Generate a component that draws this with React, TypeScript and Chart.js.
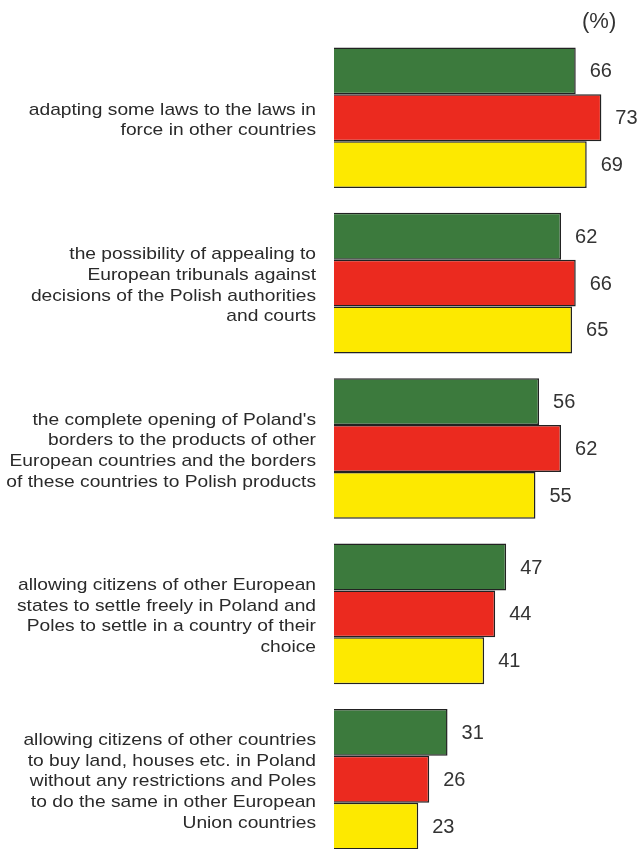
import React, { useEffect, useRef } from "react";
import { Chart, registerables } from "chart.js";

Chart.register(...registerables);

const categories: string[][] = [
  ["adapting some laws to the laws in", "force in other countries"],
  ["the possibility of appealing to", "European tribunals against", "decisions of the Polish authorities", "and courts"],
  ["the complete opening of Poland's", "borders to the products of other", "European countries and the borders", "of these countries to Polish products"],
  ["allowing citizens of other European", "states to settle freely in Poland and", "Poles to settle in a country of their", "choice"],
  ["allowing citizens of other countries", "to buy land, houses etc. in Poland", "without any restrictions and Poles", "to do the same in other European", "Union countries"],
];

const greenValues = [66, 62, 56, 47, 31];
const redValues = [73, 66, 62, 44, 26];
const yellowValues = [69, 65, 55, 41, 23];

const FONT = "'Liberation Sans', Arial, Helvetica, sans-serif";

export default function App() {
  const ref = useRef<HTMLCanvasElement | null>(null);

  useEffect(() => {
    if (!ref.current) return;
    const labelsPlugin = {
      id: "labelsPlugin",
      afterDatasetsDraw(chart: any) {
        const ctx = chart.ctx;
        ctx.save();
        ctx.fillStyle = "#333";
        ctx.font = `20px ${FONT}`;
        ctx.textAlign = "left";
        ctx.textBaseline = "middle";
        chart.data.datasets.forEach((ds: any, di: number) => {
          const meta = chart.getDatasetMeta(di);
          meta.data.forEach((el: any, i: number) => {
            ctx.fillText(String(ds.data[i]), el.x + 14, el.y + 1);
          });
        });
        ctx.font = `22px ${FONT}`;
        ctx.fillText("(%)", 582, 22);

        // category labels
        const yScale = chart.scales.y;
        const sx = 1.13;
        const rightX = 316;
        const lh = 20.6;
        ctx.fillStyle = "#2a2a2a";
        ctx.font = `17px ${FONT}`;
        ctx.textAlign = "right";
        (chart.data.labels as string[][]).forEach((lines, i) => {
          const cy = yScale.getPixelForValue(i) + 2.5;
          const startY = cy - ((lines.length - 1) * lh) / 2;
          lines.forEach((line, li) => {
            ctx.save();
            ctx.translate(rightX, startY + li * lh);
            ctx.scale(sx, 1);
            ctx.fillText(line, 0, 0);
            ctx.restore();
          });
        });
        ctx.restore();
      },
    };

    const chart = new Chart(ref.current, {
      type: "bar",
      data: {
        labels: categories,
        datasets: [
          { data: greenValues, backgroundColor: "#3c7a3d", borderColor: "#222", borderWidth: 1.5 },
          { data: redValues, backgroundColor: "#eb2a1f", borderColor: "#222", borderWidth: 1.5 },
          { data: yellowValues, backgroundColor: "#fde900", borderColor: "#222", borderWidth: 1.5 },
        ],
      },
      options: {
        indexAxis: "y",
        animation: false,
        responsive: false,
        maintainAspectRatio: false,
        layout: { padding: { top: 35, bottom: 8, left: 0, right: 14 } },
        datasets: { bar: { categoryPercentage: 0.85, barPercentage: 1 } },
        plugins: { legend: { display: false }, tooltip: { enabled: false } },
        scales: {
          x: { display: false, min: 0, max: 80 },
          y: {
            grid: { display: false },
            border: { display: false },
            ticks: { display: false },
            afterFit: (scale: any) => {
              scale.width = 334;
              scale.paddingTop = 0;
              scale.paddingBottom = 0;
            },
          },
        },
      },
      plugins: [labelsPlugin],
    } as any);
    return () => chart.destroy();
  }, []);

  return (
    <div style={{ position: "absolute", left: 0, top: 0, width: 641, height: 849, overflow: "hidden", background: "#fff" }}>
      <canvas ref={ref} width={641} height={870} style={{ display: "block", width: 641, height: 870 }} />
    </div>
  );
}
